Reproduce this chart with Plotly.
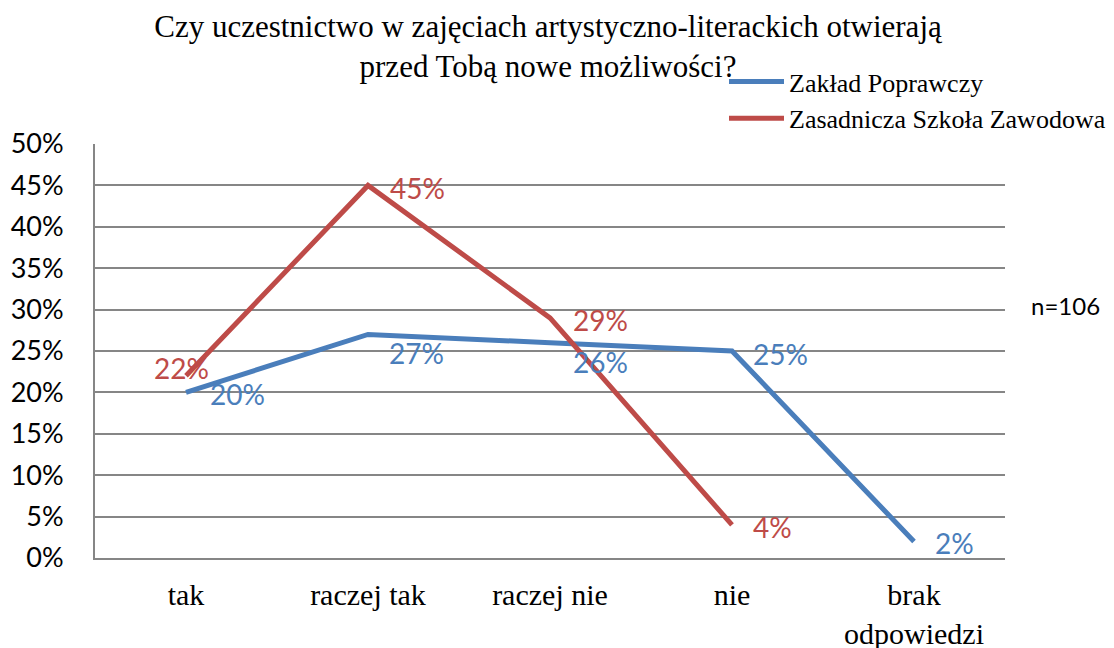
import plotly.graph_objects as go

categories = ["tak", "raczej tak", "raczej nie", "nie", "brak<br>odpowiedzi"]
zaklad = [20, 27, 26, 25, 2]
szkola = [22, 45, 29, 4, None]
tick_vals = [0, 5, 10, 15, 20, 25, 30, 35, 40, 45, 50]
tick_text = [f"{v}%" for v in tick_vals]

# label pixel offsets (x, y) relative to point
zaklad_off = [(51, -2), (48, -19), (50, -19), (48, -3), (40, -2)]
szkola_off = [(-5, 8), (49, -3), (50, -2), (40, -2), None]

BLUE = "#4A7EBB"
RED = "#BE4B48"
SANS = "Lato"
SERIF = "Liberation Serif"

fig = go.Figure()
fig.add_trace(go.Scatter(x=categories, y=zaklad, mode="lines", name="Zakład Poprawczy",
                         line=dict(color=BLUE, width=5)))
fig.add_trace(go.Scatter(x=categories, y=szkola, mode="lines", name="Zasadnicza Szkoła Zawodowa",
                         line=dict(color=RED, width=5)))

ann = []
for c, v, o in zip(categories, zaklad, zaklad_off):
    ann.append(dict(x=c, y=v, xref="x", yref="y", text=f"{v}%", showarrow=False,
                    xshift=o[0], yshift=o[1], font=dict(family=SANS, size=28, color=BLUE)))
for c, v, o in zip(categories, szkola, szkola_off):
    if v is None:
        continue
    ann.append(dict(x=c, y=v, xref="x", yref="y", text=f"{v}%", showarrow=False,
                    xshift=o[0], yshift=o[1], font=dict(family=SANS, size=28, color=RED)))
ann.append(dict(x=(1065 - 95) / 910, y=(558 - 305) / 414, xref="paper", yref="paper",
                xanchor="center", yanchor="middle",
                text="n=106", showarrow=False, font=dict(family=SANS, size=24, color="black")))

fig.update_layout(
    width=1114, height=648,
    margin=dict(l=87, r=117, t=136, b=98, autoexpand=False),
    paper_bgcolor="white", plot_bgcolor="white",
    title=dict(text="Czy uczestnictwo w zajęciach artystyczno-literackich otwierają<br>przed Tobą nowe możliwości?",
               x=540 / 1114, xanchor="center", y=1 - 29 / 648, yanchor="middle",
               font=dict(family=SERIF, size=31, color="black")),
    legend=dict(xref="container", yref="container", x=716 / 1114, y=1 - 50 / 648,
                xanchor="left", yanchor="top", bgcolor="rgba(0,0,0,0)",
                font=dict(family=SERIF, size=26, color="black"), itemwidth=55,
                tracegroupgap=0),
    showlegend=True,
    annotations=ann,
)
fig.update_xaxes(type="category", range=[-0.5, 4.5], showgrid=False, showline=True,
                 linecolor="#868686", linewidth=2, ticks="", ticklabelstandoff=9,
                 tickfont=dict(family=SERIF, size=30, color="black"))
fig.update_yaxes(range=[0, 50], tickvals=tick_vals, ticktext=tick_text, showgrid=True,
                 gridcolor="#868686", gridwidth=1.5, showline=True, linecolor="#868686",
                 linewidth=2, ticks="", ticklabelstandoff=24, zeroline=False,
                 tickfont=dict(family=SANS, size=27, color="black"))
fig.write_html("out.html")
